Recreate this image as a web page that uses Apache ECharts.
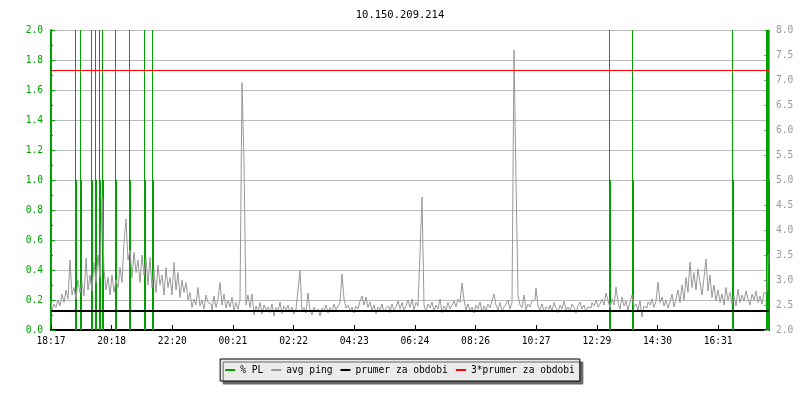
<!DOCTYPE html>
<html>
<head>
<meta charset="UTF-8">
<script src="https://cdn.jsdelivr.net/npm/echarts@6/dist/echarts.min.js"></script>
<style>
  html, body { margin: 0; padding: 0; background: #fff; }
  #graph { width: 800px; height: 400px; }
</style>
</head>
<body>
<div id="graph"></div>
<script type="text/javascript">
// casove znacky osy x (minuty od 18:17)
var tickLabels = ['18:17', '20:18', '22:20', '00:21', '02:22', '04:23', '06:24', '08:26', '10:27', '12:29', '14:30', '16:31'];
var tickStep = 121.3;
var spanMinutes = 1436;
var pingStep = 4;

// avg ping [ms], jeden vzorek kazde 4 minuty
var avgPing = [
  2.58,2.40,2.52,2.45,2.60,2.48,2.72,2.55,2.80,2.62,
  3.40,2.70,2.85,2.62,3.00,2.75,2.95,2.68,3.44,2.80,
  3.10,2.78,3.35,2.95,3.50,3.05,4.65,3.20,2.80,3.05,
  2.70,3.10,2.75,3.00,2.85,3.25,2.95,3.75,4.22,3.40,
  3.60,3.05,3.55,3.15,3.40,2.95,3.50,3.10,3.45,2.90,
  3.45,2.85,3.20,2.75,3.30,2.90,3.10,2.70,3.25,2.85,
  3.05,2.70,3.35,2.80,3.15,2.65,3.00,2.75,2.95,2.60,
  2.75,2.45,2.62,2.50,2.85,2.48,2.60,2.42,2.70,2.55,
  2.52,2.40,2.68,2.45,2.62,2.95,2.50,2.72,2.44,2.60,
  2.46,2.66,2.38,2.55,2.42,2.60,6.95,5.35,2.50,2.70,
  2.45,2.72,2.30,2.48,2.36,2.55,2.32,2.50,2.40,2.46,
  2.35,2.52,2.28,2.45,2.38,2.56,2.33,2.48,2.40,2.50,
  2.36,2.46,2.32,2.42,2.80,3.20,2.38,2.45,2.34,2.74,
  2.40,2.30,2.46,2.36,2.42,2.28,2.44,2.38,2.50,2.34,
  2.45,2.36,2.52,2.40,2.48,2.55,3.12,2.62,2.44,2.50,
  2.38,2.46,2.34,2.48,2.42,2.58,2.68,2.50,2.66,2.45,
  2.56,2.38,2.50,2.33,2.46,2.40,2.52,2.36,2.44,2.48,
  2.35,2.52,2.40,2.46,2.58,2.42,2.55,2.38,2.48,2.60,
  2.45,2.62,2.40,2.55,2.48,3.54,4.66,2.50,2.36,2.52,
  2.44,2.56,2.38,2.50,2.42,2.62,2.35,2.48,2.40,2.55,
  2.42,2.50,2.58,2.46,2.62,2.55,2.94,2.60,2.40,2.52,
  2.38,2.46,2.34,2.50,2.42,2.56,2.36,2.48,2.40,2.52,
  2.44,2.58,2.72,2.50,2.40,2.55,2.36,2.46,2.52,2.60,
  2.42,2.55,7.60,5.00,2.68,2.50,2.45,2.70,2.40,2.52,
  2.46,2.58,2.60,2.84,2.48,2.40,2.52,2.36,2.46,2.42,
  2.50,2.38,2.55,2.44,2.35,2.50,2.42,2.58,2.40,2.46,
  2.38,2.52,2.45,2.34,2.48,2.56,2.42,2.50,2.36,2.46,
  2.44,2.55,2.48,2.60,2.46,2.52,2.62,2.50,2.74,2.58,
  2.45,2.62,2.50,2.86,2.55,2.42,2.66,2.48,2.58,2.40,
  2.55,2.70,2.46,2.52,2.40,2.58,2.26,2.48,2.44,2.56,
  2.50,2.62,2.45,2.58,2.96,2.55,2.66,2.48,2.60,2.44,
  2.56,2.72,2.46,2.62,2.80,2.55,2.90,2.60,3.05,2.75,
  3.36,2.85,3.15,2.80,3.22,2.95,2.70,3.05,3.42,2.78,
  3.10,2.65,2.90,2.58,2.80,2.55,2.72,2.50,2.85,2.60,
  2.75,2.52,2.68,2.48,2.82,2.55,2.70,2.58,2.78,2.62,
  2.50,2.72,2.60,2.78,2.55,2.68,2.52,2.74,2.76,3.50
];

// paket loss udalosti (minuty) a hodnoty
var plTimes = [49, 59, 81, 89, 97, 103, 129, 157, 187, 203, 1117, 1163, 1363, 1431, 1433, 1435];
var plValues = [100, 100, 100, 100, 100, 100, 100, 100, 100, 100, 100, 100, 100, 100, 100, 100];

var meanPing = 2.38;
var meanPing3 = 7.19;

var green = '#00a000';
var font = 'DejaVu Sans Mono';

var mychart = echarts.init(document.getElementById('graph'));

var pingData = avgPing.map(function (v, i) { return [i * pingStep, v]; });
var plThin = plTimes.map(function (t, i) { return [t, plValues[i]]; });
var plThick = plTimes.map(function (t, i) { return [t, Math.min(plValues[i], 1)]; });

var option = {
    backgroundColor: '#fff',
    animation: false,
    title: {
        text: '10.150.209.214',
        left: 'center',
        top: 5,
        textStyle: { fontFamily: font, fontSize: 10.5, fontWeight: 'normal', color: '#000' }
    },
    legend: {
        data: ['% PL', 'avg ping', 'prumer za obdobi', '3*prumer za obdobi'],
        left: 'center',
        top: 359,
        icon: 'rect',
        itemWidth: 10,
        itemHeight: 2,
        itemGap: 8,
        padding: [6, 5],
        backgroundColor: '#ebebeb',
        borderColor: '#000',
        borderWidth: 1,
        shadowColor: '#666',
        shadowBlur: 0,
        shadowOffsetX: 3,
        shadowOffsetY: 3,
        textStyle: { fontFamily: font, fontSize: 9.6, color: '#000' }
    },
    grid: { left: 51, right: 31, top: 30, bottom: 70 },
    xAxis: {
        type: 'value',
        min: 0,
        max: spanMinutes,
        interval: tickStep,
        axisLine: { lineStyle: { color: '#000', width: 2 } },
        axisTick: { inside: true, length: 5, lineStyle: { color: '#000' } },
        splitLine: { show: false },
        axisLabel: {
            margin: 6,
            showMaxLabel: false,
            fontFamily: font,
            fontSize: 9.6,
            color: '#000',
            formatter: function (v) {
                var k = Math.round(v / tickStep);
                if (Math.abs(v - k * tickStep) > 1) return '';
                return tickLabels[k] || '';
            }
        }
    },
    yAxis: [
        {
            type: 'value',
            min: 0,
            max: 2,
            interval: 0.2,
            axisLine: { show: true, lineStyle: { color: green, width: 2 } },
            axisTick: { show: true, inside: true, length: 4, lineStyle: { color: green } },
            minorTick: { show: true, splitNumber: 2, length: 2, lineStyle: { color: green } },
            splitLine: { lineStyle: { color: '#bbbbbb', width: 1 } },
            axisLabel: {
                margin: 8,
                fontFamily: font,
                fontSize: 9.6,
                color: green,
                formatter: function (v) { return v.toFixed(1); }
            }
        },
        {
            type: 'value',
            position: 'right',
            min: 2,
            max: 8,
            interval: 0.5,
            axisLine: { show: true, lineStyle: { color: '#999', width: 1 } },
            axisTick: { show: true, inside: true, length: 5, lineStyle: { color: '#999' } },
            minorTick: { show: true, splitNumber: 5, length: 3, lineStyle: { color: '#999' } },
            splitLine: { show: false },
            axisLabel: {
                margin: 7,
                fontFamily: font,
                fontSize: 9.6,
                color: '#999',
                formatter: function (v) { return v.toFixed(1); }
            }
        }
    ],
    series: [
        {
            name: 'avg ping',
            type: 'line',
            yAxisIndex: 1,
            step: 'middle',
            data: pingData,
            showSymbol: false,
            symbol: 'none',
            lineStyle: { color: '#999', width: 1 },
            itemStyle: { color: '#999' }
        },
        {
            name: '% PL',
            type: 'bar',
            yAxisIndex: 0,
            data: plThick,
            barWidth: 2,
            barGap: '-100%',
            itemStyle: { color: green }
        },
        {
            name: '% PL',
            type: 'bar',
            yAxisIndex: 0,
            data: plThin,
            barWidth: 1,
            barGap: '-100%',
            itemStyle: { color: green }
        },
        {
            name: 'prumer za obdobi',
            type: 'line',
            yAxisIndex: 1,
            data: [[0, meanPing], [spanMinutes, meanPing]],
            showSymbol: false,
            symbol: 'none',
            lineStyle: { color: '#000', width: 2 },
            itemStyle: { color: '#000' }
        },
        {
            name: '3*prumer za obdobi',
            type: 'line',
            yAxisIndex: 1,
            data: [[0, meanPing3], [spanMinutes, meanPing3]],
            showSymbol: false,
            symbol: 'none',
            lineStyle: { color: '#ff0000', width: 1 },
            itemStyle: { color: '#ff0000' }
        }
    ]
};
mychart.setOption(option, true);
</script>
</body>
</html>
